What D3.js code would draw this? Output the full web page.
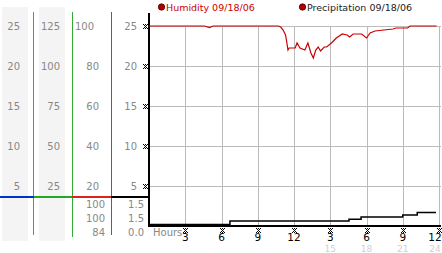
<!DOCTYPE html>
<html>
<head>
<meta charset="utf-8">
<script src="https://cdn.jsdelivr.net/npm/d3@7"></script>
<style>
  body { margin: 0; background: #fff; }
  svg { display: block; font-family: "DejaVu Sans", Verdana, sans-serif; }
</style>
</head>
<body>
<script>
const width = 442;
const height = 253;

// readings
const humHours = [0, 4.6, 5.0, 5.3, 10.7, 10.9, 11.1, 11.3, 11.4, 11.5, 11.6, 12.1, 12.25, 12.5, 12.9, 13.15, 13.4, 13.6, 13.8, 14.0, 14.2, 14.5, 14.7, 15.1, 15.5, 16.0, 16.4, 16.6, 16.9, 17.6, 18.0, 18.3, 18.7, 20.2, 20.45, 21.4, 21.6, 23.8];
const humidity = [100, 100, 99.2, 100, 100, 99.5, 98, 95.5, 92, 88, 89, 89, 91.5, 89, 88, 91.5, 86.5, 84, 88, 89.5, 87.5, 89.5, 89.5, 91.5, 94, 96, 95.5, 94.5, 96, 96, 94, 96.5, 97.5, 98.5, 99, 99, 100, 100];
const precHours = [0, 6.7, 16.55, 17.55, 21.0, 22.2, 23.75];
const precip = [0, 0.45, 0.65, 0.95, 1.2, 1.5, 1.5];

const col1Ticks = [5, 10, 15, 20, 25];
const col2Ticks = [25, 50, 75, 100, 125];
const col3Ticks = [20, 40, 60, 80, 100];
const col4Ticks = [5, 10, 15, 20, 25];
const humReadings = ["100", "100", "84"];
const precReadings = ["1.5", "1.5", "0.0"];
const hourTicks = [3, 6, 9, 12, 15, 18, 21, 24];
const hourLabels = ["3", "6", "9", "12", "3", "6", "9", "12"];
const hourLabels24 = ["", "", "", "", "15", "18", "21", "24"];

const color = {
    grid: "#bbbbbb",
    label: "#888888",
    humidity: "#cc0000",
    colBg: "#f4f4f4"
}

let svg = d3.select("body").append("svg")
    .attr("width", width)
    .attr("height", height)

let x = d3.scaleLinear().domain([0, 24]).range([149, 439]);
let y = d3.scaleLinear().domain([0, 25]).range([226, 26]);
let yHum = d3.scaleLinear().domain([0, 100]).range([226, 26]);
let y2 = d3.scaleLinear().domain([0, 125]).range([226, 26]);

// left side columns
svg.append("rect").attr("x", 2).attr("y", 7).attr("width", 26).attr("height", 234).attr("fill", color.colBg)
svg.append("rect").attr("x", 39).attr("y", 7).attr("width", 26).attr("height", 234).attr("fill", color.colBg)

const cols = [
    {ticks: col1Ticks, scale: y, right: 20},
    {ticks: col2Ticks, scale: y2, right: 60},
    {ticks: col3Ticks, scale: yHum, right: 99},
    {ticks: col4Ticks, scale: y, right: 137}
]
cols.forEach(function (c) {
    svg.append("g").selectAll("text")
        .data(c.ticks)
        .enter()
        .append("text")
        .attr("x", function (d) { return d === 100 && c.right === 99 ? 94 : c.right })
        .attr("y", d => c.scale(d))
        .attr("dy", "0.36em")
        .attr("text-anchor", "end")
        .attr("font-size", 10)
        .attr("fill", color.label)
        .text(d => d)
})

// vertical colour separators
svg.append("line").attr("x1", 33.5).attr("x2", 33.5).attr("y1", 12).attr("y2", 235).attr("stroke", "#3399cc")
svg.append("line").attr("x1", 72.5).attr("x2", 72.5).attr("y1", 12).attr("y2", 237).attr("stroke", "#33aa33")
svg.append("line").attr("x1", 111.5).attr("x2", 111.5).attr("y1", 12).attr("y2", 235).attr("stroke", "#cc3333")

// horizontal colour bar
svg.append("line").attr("x1", 0).attr("x2", 34).attr("y1", 197).attr("y2", 197).attr("stroke", "#0033cc").attr("stroke-width", 2)
svg.append("line").attr("x1", 34).attr("x2", 72).attr("y1", 197).attr("y2", 197).attr("stroke", "#22aa22").attr("stroke-width", 2)
svg.append("line").attr("x1", 72).attr("x2", 111).attr("y1", 197).attr("y2", 197).attr("stroke", "#dd2222").attr("stroke-width", 2)
svg.append("line").attr("x1", 111).attr("x2", 149).attr("y1", 197).attr("y2", 197).attr("stroke", "#000").attr("stroke-width", 2)

// current / max / min readings
const readY = [204, 218, 232];
svg.append("g").selectAll("text")
    .data(humReadings)
    .enter()
    .append("text")
    .attr("x", 105)
    .attr("y", (d, i) => readY[i])
    .attr("dy", "0.36em")
    .attr("text-anchor", "end")
    .attr("font-size", 10)
    .attr("fill", color.label)
    .text(d => d)
svg.append("g").selectAll("text")
    .data(precReadings)
    .enter()
    .append("text")
    .attr("x", 144)
    .attr("y", (d, i) => readY[i])
    .attr("dy", "0.36em")
    .attr("text-anchor", "end")
    .attr("font-size", 10)
    .attr("fill", color.label)
    .text(d => d)

// grid
svg.append("g").selectAll("line")
    .data(col4Ticks)
    .enter()
    .append("line")
    .attr("x1", 149).attr("x2", 441)
    .attr("y1", d => y(d) + 0.5).attr("y2", d => y(d) + 0.5)
    .attr("stroke", color.grid)
svg.append("g").selectAll("line")
    .data(hourTicks)
    .enter()
    .append("line")
    .attr("x1", d => Math.round(x(d)) + 0.5).attr("x2", d => Math.round(x(d)) + 0.5)
    .attr("y1", 26).attr("y2", 225)
    .attr("stroke", color.grid)

// axes
svg.append("line").attr("x1", 149).attr("x2", 149).attr("y1", 13).attr("y2", 227).attr("stroke", "#000").attr("stroke-width", 2)
svg.append("line").attr("x1", 148).attr("x2", 441).attr("y1", 226).attr("y2", 226).attr("stroke", "#000").attr("stroke-width", 2)

// little hatched tick marks
function hatch(g, cx, cy) {
    const pts = [[0, 0], [2, 0], [4, 0], [1, 1], [3, 1], [2, 2], [1, 3], [3, 3], [0, 4], [2, 4], [4, 4]];
    g.selectAll(null)
        .data(pts)
        .enter()
        .append("rect")
        .attr("x", p => cx - 2 + p[0])
        .attr("y", p => cy - 2 + p[1])
        .attr("width", 1).attr("height", 1)
        .attr("fill", "#000")
}
col4Ticks.forEach(d => hatch(svg.append("g"), 145, Math.round(y(d))))
hourTicks.forEach(d => hatch(svg.append("g"), Math.round(x(d)), 230))

// x labels
svg.append("text").attr("x", 153).attr("y", 236).attr("font-size", 10).attr("fill", color.label).text("Hours")
svg.append("g").selectAll("text")
    .data(hourTicks)
    .enter()
    .append("text")
    .attr("x", (d, i) => i === hourTicks.length - 1 ? 435 : x(d))
    .attr("y", 241)
    .attr("text-anchor", "middle")
    .attr("font-size", 10.5)
    .attr("fill", "#000")
    .text((d, i) => hourLabels[i])
svg.append("g").selectAll("text")
    .data(hourTicks)
    .enter()
    .append("text")
    .attr("x", (d, i) => i === hourTicks.length - 1 ? 435 : x(d))
    .attr("y", 252)
    .attr("text-anchor", "middle")
    .attr("font-size", 9)
    .attr("fill", "#d0d0d0")
    .text((d, i) => hourLabels24[i])

// series
let humLine = d3.line()
    .x((d, i) => x(humHours[i]))
    .y(d => yHum(d))
svg.append("path")
    .attr("d", humLine(humidity))
    .attr("fill", "none")
    .attr("stroke", color.humidity)
    .attr("stroke-width", 1.2)

let precLine = d3.line()
    .x((d, i) => x(precHours[i]))
    .y(d => y(d) - 1.5)
    .curve(d3.curveStepAfter)
svg.append("path")
    .attr("d", precLine(precip))
    .attr("fill", "none")
    .attr("stroke", "#000")
    .attr("stroke-width", 1.5)

// legend
svg.append("circle").attr("cx", 161.5).attr("cy", 7).attr("r", 3.2).attr("fill", "#aa0000").attr("stroke", "#550000").attr("stroke-width", 0.8)
svg.append("text").attr("x", 166).attr("y", 11).attr("font-size", 9.5).attr("fill", color.humidity).text("Humidity 09/18/06")
svg.append("circle").attr("cx", 302.5).attr("cy", 7).attr("r", 3.2).attr("fill", "#aa0000").attr("stroke", "#550000").attr("stroke-width", 0.8)
svg.append("text").attr("x", 307).attr("y", 11).attr("font-size", 9.5).attr("fill", "#222").text("Precipitation 09/18/06")
</script>
</body>
</html>
